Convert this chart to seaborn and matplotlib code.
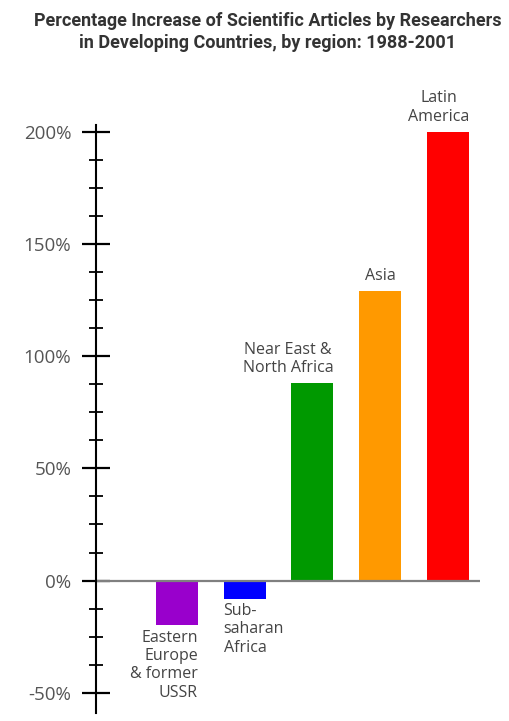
import matplotlib
matplotlib.use("Agg")
import matplotlib.pyplot as plt
import seaborn as sns
import pandas as pd

# Percentage increase in scientific articles, 1988-2001
regions = ["Eastern\nEurope\n& former\nUSSR", "Sub-\nsaharan\nAfrica",
           "Near East &\nNorth Africa", "Asia", "Latin\nAmerica"]
increase = [-20, -8, 88, 129, 200]
colors = ["#9900cc", "#0000ff", "#009900", "#ff9900", "#ff0000"]
yticks = [-50, 0, 50, 100, 150, 200]
ytick_labels = ["-50%", "0%", "50%", "100%", "150%", "200%"]
title_lines = "Percentage Increase of Scientific Articles by Researchers\nin Developing Countries, by region: 1988-2001"

df = pd.DataFrame({"region": regions, "increase": increase})

sns.set_theme(style="white")
plt.rcParams["font.family"] = ["Open Sans", "DejaVu Sans"]

W, H = 510, 721
fig = plt.figure(figsize=(W / 100, H / 100), dpi=100)
ax = fig.add_axes([96 / W, 8 / H, (480 - 96) / W, (713 - 125) / H])

bar_w = 0.62
sns.barplot(data=df, x="region", y="increase", hue="region", palette=colors,
            width=bar_w, legend=False, ax=ax, saturation=1, edgecolor="none")

ax.set_xlim(-1.19, 4.47)
ax.set_ylim(-59, 203)
ax.axhline(0, color="#808080", lw=1.6, zorder=1)

# left axis with crossing ticks
for s in ["top", "right", "bottom"]:
    ax.spines[s].set_visible(False)
ax.spines["left"].set_color("black")
ax.spines["left"].set_linewidth(1.5)
ax.set_yticks(yticks)
ax.set_yticklabels(ytick_labels)
ax.set_yticks([v + 12.5 * k for v in yticks[:-1] for k in (1, 2, 3)], minor=True)
ax.tick_params(axis="y", which="major", direction="inout", length=19.5, width=1.6,
               color="black", labelsize=13.5, labelcolor="#555555", pad=8, left=True)
ax.tick_params(axis="y", which="minor", direction="inout", length=10, width=1.3,
               color="black", left=True)
ax.set_xticks([])
ax.set_xlabel("")
ax.set_ylabel("")

# bar labels
lab_kw = dict(fontsize=11.5, color="#444444", textcoords="offset points", linespacing=1.2)
half = bar_w / 2
ax.annotate(regions[0], (0 + half, increase[0]), xytext=(0, -3), ha="right", va="top",
            multialignment="right", **lab_kw)
ax.annotate(regions[1], (1 - half, increase[1]), xytext=(0, -3), ha="left", va="top",
            multialignment="left", **lab_kw)
ax.annotate(regions[2], (2 + half, increase[2]), xytext=(0, 5), ha="right", va="bottom",
            multialignment="center", **lab_kw)
ax.annotate(regions[3], (3, increase[3]), xytext=(0, 5), ha="center", va="bottom",
            multialignment="center", **lab_kw)
ax.annotate(regions[4], (4 + half, increase[4]), xytext=(0, 5), ha="right", va="bottom",
            multialignment="center", **lab_kw)

fig.text(268 / W, 1 - 12 / H, title_lines, ha="center", va="top", fontsize=13,
         fontweight="bold", color="#333333", linespacing=1.3,
         family=["Roboto", "DejaVu Sans"])

fig.savefig("out.png", dpi=100, facecolor="white")
